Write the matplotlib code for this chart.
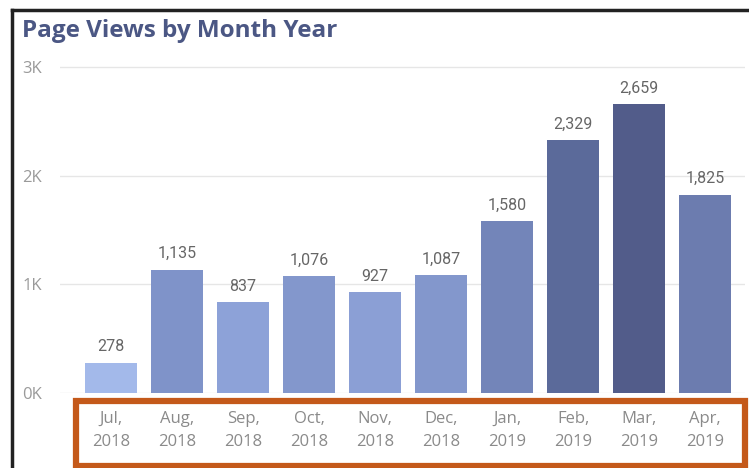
import matplotlib.pyplot as plt
from matplotlib.patches import Rectangle
from matplotlib.lines import Line2D

# data
months = ["Jul,\n2018", "Aug,\n2018", "Sep,\n2018", "Oct,\n2018", "Nov,\n2018",
          "Dec,\n2018", "Jan,\n2019", "Feb,\n2019", "Mar,\n2019", "Apr,\n2019"]
views = [278, 1135, 837, 1076, 927, 1087, 1580, 2329, 2659, 1825]
bar_colors = ["#A3B9EA", "#7F93C9", "#8DA2D8", "#8397CC", "#8B9FD5",
              "#8397CC", "#7385B9", "#5B6A9A", "#525C8A", "#6C7CAF"]
yticks = [0, 1000, 2000, 3000]
ytick_labels = ["0K", "1K", "2K", "3K"]

W, H = 749, 468
fig = plt.figure(figsize=(W / 100, H / 100), dpi=100)
fig.patch.set_facecolor("white")

ax = fig.add_axes([60 / W, (H - 393) / H, 685 / W, 333 / H])
x = list(range(len(views)))
ax.bar(x, views, width=0.79, color=bar_colors, zorder=2)
ax.set_xlim(-0.773, 9.606)
ax.set_ylim(0, 3064)

for xi, v in zip(x, views):
    ax.annotate(f"{v:,}", (xi, v), xytext=(0, 6), textcoords="offset points",
                ha="center", va="bottom", fontsize=11.5, color="#666666",
                family="Roboto")

ax.set_yticks(yticks)
ax.set_yticklabels(ytick_labels)
ax.grid(axis="y", color="#E6E6E6", linewidth=1, zorder=0)
ax.tick_params(axis="y", length=0, pad=27, labelsize=12, labelcolor="#9A9A9A")
for lab in ax.get_yticklabels():
    lab.set_family("Open Sans")
    lab.set_horizontalalignment("left")
ax.set_xticks(x)
ax.set_xticklabels(months)
ax.tick_params(axis="x", length=0, pad=13, labelsize=12, labelcolor="#8A8A8A")
for lab in ax.get_xticklabels():
    lab.set_family("Open Sans")
    lab.set_linespacing(1.62)
for s in ax.spines.values():
    s.set_visible(False)

fig.text(22 / W, 1 - 31 / H, "Page Views by Month Year", fontsize=17.5,
         fontweight="bold", color="#4B5784", family="Open Sans", va="center")

# orange highlight box around the month labels
fig.patches.append(Rectangle((76 / W, 2 / H), 669 / W, 65 / H, fill=False,
                             edgecolor="#C4591A", linewidth=4.5,
                             transform=fig.transFigure, figure=fig))
# dark frame of the screenshot
fig.lines.append(Line2D([12 / W, 1], [1 - 10 / H, 1 - 10 / H], color="#222222",
                        linewidth=2.5, transform=fig.transFigure, figure=fig))
fig.lines.append(Line2D([12 / W, 12 / W], [0, 1 - 10 / H], color="#222222",
                        linewidth=2.5, transform=fig.transFigure, figure=fig))

fig.savefig("out.png", dpi=100)
